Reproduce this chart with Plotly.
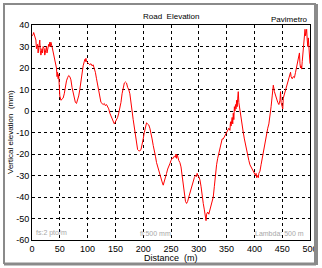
import plotly.graph_objects as go

distance = [0, 2, 3, 5, 7, 8, 10, 11, 12, 14, 15, 16, 18, 19, 20, 22, 23, 25, 26, 27, 29, 30, 31, 32, 33, 34, 36, 38, 40,
            42, 44, 45, 46, 47, 48, 49, 50, 52, 54, 56, 58, 60, 62, 64, 66, 68, 70, 72, 74, 76, 78, 80, 82, 84, 86, 88,
            90, 92, 94, 95, 96, 97, 98, 100, 102, 104, 106, 108, 110, 112, 114, 116, 118, 120, 122, 124, 126, 128, 130,
            132, 134, 136, 138, 140, 142, 144, 146, 148, 150, 152, 154, 156, 158, 160, 162, 164, 166, 168, 170, 172,
            174, 176, 178, 180, 182, 184, 186, 188, 190, 192, 194, 196, 198, 200, 202, 204, 206, 208, 210, 212, 214,
            216, 218, 220, 222, 224, 226, 228, 230, 232, 234, 236, 238, 240, 242, 244, 246, 248, 250, 252, 254, 256,
            258, 259, 260, 261, 262, 264, 266, 268, 270, 272, 274, 276, 278, 280, 282, 284, 286, 288, 290, 292, 294,
            296, 297, 298, 300, 302, 304, 306, 308, 310, 312, 313, 314, 316, 318, 320, 322, 324, 326, 328, 330, 332,
            334, 336, 338, 340, 342, 344, 346, 348, 350, 352, 354, 356, 357, 358, 360, 361, 362, 363, 364, 365, 366,
            367, 368, 369, 370, 371, 372, 373, 374, 376, 378, 380, 382, 384, 386, 388, 390, 392, 394, 396, 398, 400,
            402, 403, 404, 406, 407, 408, 410, 412, 414, 416, 418, 420, 422, 424, 426, 428, 430, 432, 434, 436, 438,
            440, 442, 444, 446, 447, 448, 450, 451, 452, 454, 456, 458, 460, 462, 464, 465, 466, 468, 470, 472, 474,
            476, 478, 480, 481, 482, 483, 484, 485, 486, 488, 490, 491, 492, 493, 494, 495, 496, 497, 498, 499, 500]

elevation = [35, 35.5, 36.5, 34, 33, 29, 31, 27, 30, 33, 28, 26, 29, 27, 30, 29, 26, 28, 30, 27, 29, 31, 30, 32, 30, 32,
             30, 27, 25, 22, 20, 16, 18, 15, 17, 12, 7, 5, 5.5, 6, 8, 12, 14, 15.5, 16.5, 16, 14.5, 11, 8, 5, 4, 3.5,
             5, 7, 10, 14, 18, 21, 23, 24, 23, 24.5, 23, 22.5, 22, 21.5, 22, 21, 21.5, 20, 18, 15, 12, 9, 6, 4, 3.5,
             3, 3.5, 2.5, 3, 2, 1, -1, -2.5, -4, -5, -6, -5, -4, -3, -1, 1, 4, 8, 11, 13, 13.5, 13, 11, 10, 8, 5, 0,
             -4, -8, -12, -16, -18, -18.5, -18.5, -18, -16, -13, -10, -7, -5.5, -6, -6.5, -8, -10, -13, -16, -18, -21,
             -24, -26, -28, -29, -31, -33, -34.5, -33, -31, -29, -27, -26, -24.5, -23, -22, -22, -21, -21.5, -20, -22,
             -20.5, -21, -23, -24, -26, -30, -35, -40, -42, -43, -42, -40, -38, -36, -34, -33, -31, -30, -30.5, -29,
             -30, -30.5, -32, -35, -40, -43, -46, -49, -51, -48, -47, -48, -46, -45, -43, -40, -35, -28, -25, -22,
             -20, -17, -15, -13, -13, -12, -11.5, -10, -9, -8, -9, -5, -7, -3, -6, -1, -4, 2, 0, 3, 1, 5, 2, 6, 9, 4,
             2, 0, -3, -6, -10, -13, -16, -18, -21, -23, -25, -26, -27, -28, -29, -30, -29, -31, -30, -31, -29, -28,
             -25, -22, -19, -15, -12, -10, -8, -6, -3, 2, 7, 12, 9, 7, 6, 4, 3, 5, 9, 4, 2, 1, 6, 8, 10, 12, 14, 15,
             17, 18, 16, 15, 16, 15.5, 18, 21, 24, 26, 27, 22, 20, 21, 19.5, 23, 30, 35, 38, 35, 37, 38, 33, 30, 34,
             28, 30, 22]

x_ticks = [0, 50, 100, 150, 200, 250, 300, 350, 400, 450, 500]
y_ticks = [-60, -50, -40, -30, -20, -10, 0, 10, 20, 30, 40]

W, H = 322, 268
ML, MR, MT, MB = 32, 12, 25, 28
PW, PH = W - ML - MR, H - MT - MB


def px(x):
    return (x - ML) / PW


def py(y):
    return 1 - (y - MT) / PH


FONT = "Liberation Sans, Arial, sans-serif"

fig = go.Figure()
fig.add_trace(go.Scatter(x=distance, y=elevation, mode="lines",
                         line=dict(color="#ff0000", width=1), showlegend=False))

axis_common = dict(showline=True, linecolor="black", linewidth=1, mirror=True,
                   showgrid=True, gridcolor="black", gridwidth=1, griddash="3px,3px",
                   zeroline=False, ticks="", tickfont=dict(family=FONT, size=9, color="black"))

fig.update_xaxes(range=[0, 500], tickvals=x_ticks, ticktext=[str(v) for v in x_ticks], **axis_common)
fig.update_yaxes(range=[-60, 40], tickvals=y_ticks, ticktext=[str(v) for v in y_ticks], **axis_common)

gray = "#8a8a8a"
shapes = [
    dict(type="line", xref="paper", yref="paper", x0=px(3), x1=px(316), y0=py(4), y1=py(4),
         line=dict(color=gray, width=2), layer="above"),
    dict(type="line", xref="paper", yref="paper", x0=px(4), x1=px(4), y0=py(4), y1=py(264),
         line=dict(color=gray, width=2), layer="above"),
    dict(type="line", xref="paper", yref="paper", x0=px(4), x1=px(316), y0=py(264), y1=py(264),
         line=dict(color=gray, width=3), layer="above"),
    dict(type="line", xref="paper", yref="paper", x0=px(316), x1=px(316), y0=py(4), y1=py(265),
         line=dict(color=gray, width=4), layer="above"),
]

annotations = [
    dict(text="Road  Elevation", x=px(171), y=py(16), xref="paper", yref="paper", showarrow=False,
         font=dict(family=FONT, size=8, color="black"), xanchor="center", yanchor="middle"),
    dict(text="Pavimetro", x=px(310), y=py(20), xref="paper", yref="paper", showarrow=False,
         font=dict(family=FONT, size=8, color="black"), xanchor="right", yanchor="middle"),
    dict(text="Distance  (m)", x=px(171), y=py(258), xref="paper", yref="paper", showarrow=False,
         font=dict(family=FONT, size=9, color="black"), xanchor="center", yanchor="middle"),
    dict(text="Vertical elevation  (mm)", x=px(10), y=py(132), xref="paper", yref="paper", showarrow=False,
         textangle=-90, font=dict(family=FONT, size=8, color="black"), xanchor="center", yanchor="middle"),
    dict(text="fs:2 pto/m", x=px(34), y=py(233), xref="paper", yref="paper", showarrow=False,
         font=dict(family=FONT, size=7, color="#a8a8a8"), xanchor="left", yanchor="middle"),
    dict(text="fi:500 mm", x=px(155), y=py(233), xref="paper", yref="paper", showarrow=False,
         font=dict(family=FONT, size=7, color="#a8a8a8"), xanchor="center", yanchor="middle"),
    dict(text="Lambda: 500 m", x=px(306), y=py(233), xref="paper", yref="paper", showarrow=False,
         font=dict(family=FONT, size=7, color="#a8a8a8"), xanchor="right", yanchor="middle"),
]

fig.update_layout(width=W, height=H, margin=dict(l=ML, r=MR, t=MT, b=MB, autoexpand=False),
                  paper_bgcolor="white", plot_bgcolor="white", shapes=shapes, annotations=annotations,
                  font=dict(family=FONT, size=9, color="black"))

fig.write_html("out.html", config={"displayModeBar": False},
               post_script="document.body.style.margin='0';document.body.style.padding='0';")
